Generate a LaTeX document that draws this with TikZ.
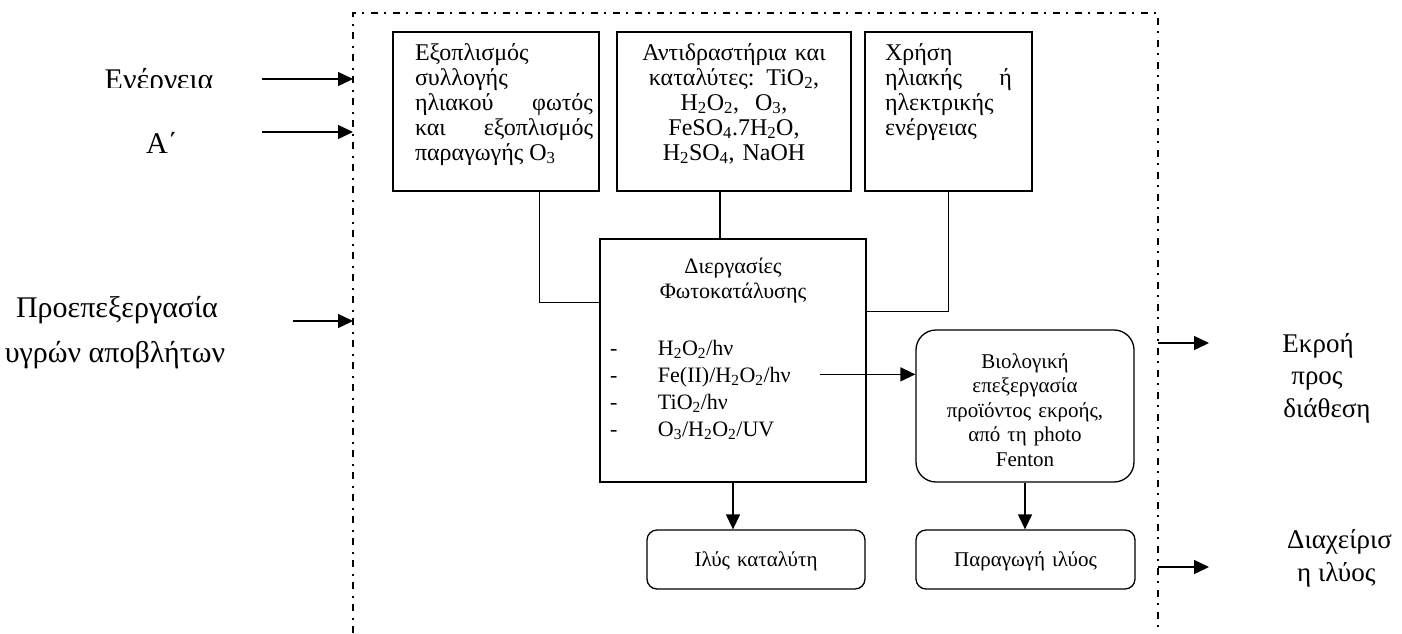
\documentclass[tikz,border=0pt]{standalone}
\usepackage{fontspec}
\setmainfont{Liberation Serif}
\usetikzlibrary{arrows.meta,calc}
\newcommand\sbs[1]{\textsubscript{#1}}

\begin{document}
\begin{tikzpicture}[x=1pt,y=-1pt,
  topfont/.style={font=\fontsize{24}{25}\selectfont},
  sqbox/.style={draw, line width=1.3pt, inner sep=0pt, font=\fontsize{22}{25}\selectfont},
  rbox/.style={sqbox, rounded corners=#1},
  link/.style={line width=1.3pt},
  arr/.style={line width=1.3pt, -{Triangle[length=15pt,width=14pt]}},
  frame/.style={line width=1.4pt, dash pattern=on 7pt off 6pt on 2pt off 7pt},
  lbl/.style={font=\fontsize{30}{40}\selectfont, inner sep=0pt, anchor=base},
  rlbl/.style={font=\fontsize{27}{33}\selectfont, inner sep=0pt, anchor=base}]
\useasboundingbox (0,0) rectangle (1402,633);

% system boundary (open at the bottom)
\coordinate (fbl) at (353,633);
\coordinate (ftl) at (353,13);
\coordinate (ftr) at (1158,13);
\coordinate (fbr) at (1158,633);
\draw[frame] (fbl) -- (ftl) -- (ftr) -- (fbr);

% resource boxes
\node[sqbox, topfont, minimum width=206pt, text height=28pt, text depth=131pt] (equip) at (496,111.5)
  {\hspace*{16pt}\parbox[t]{178pt}{Εξοπλισμός\\ συλλογής\\ ηλιακού\hfill φωτός\\ και\hfill εξοπλισμός\\ παραγωγής O\sbs3}};
\node[sqbox, topfont, align=center, text width=234pt, text height=28pt, text depth=131pt] (react) at (734,111.5)
  {Αντιδραστήρια και\\ καταλύτες: TiO\sbs2,\\ H\sbs2O\sbs2,\ \ O\sbs3,\\ FeSO\sbs4.7H\sbs2O,\\ H\sbs2SO\sbs4, NaOH};
\node[sqbox, topfont, minimum width=167pt, text height=28pt, text depth=131pt] (energy) at (948.5,111.5)
  {\parbox[t]{127pt}{Χρήση\\ ηλιακής\hfill ή\\ ηλεκτρικής\\ ενέργειας}};

% photocatalysis process
\node[sqbox, align=justify, text width=266pt, text height=34pt, text depth=209pt] (proc) at (733,360.5)
  {{\centering Διεργασίες\\ Φωτοκατάλυσης\par}\vspace{30pt}%
   \fontsize{22}{27}\selectfont\leftskip=10pt
   \makebox[48pt][l]{-}H\sbs2O\sbs2/hν\\
   \makebox[48pt][l]{-}Fe(II)/H\sbs2O\sbs2/hν\\
   \makebox[48pt][l]{-}TiO\sbs2/hν\\
   \makebox[48pt][l]{-}O\sbs3/H\sbs2O\sbs2/UV\par};

% downstream treatment and sludge
\node[rbox=20pt, align=center, text width=218pt, text height=38pt, text depth=114pt,
      font=\fontsize{21}{24.5}\selectfont] (bio) at (1025,406)
  {Βιολογική\\ επεξεργασία\\ προϊόντος εκροής,\\ από τη photo\\ Fenton};
\node[rbox=10pt, align=center, text width=218pt, text height=36pt, text depth=23pt,
      font=\fontsize{21}{24.5}\selectfont] (cat) at (756,559.5) {Ιλύς καταλύτη};
\node[rbox=10pt, align=center, text width=219pt, text height=36pt, text depth=23pt,
      font=\fontsize{21}{24.5}\selectfont] (sludge) at (1025.5,559.5) {Παραγωγή ιλύος};

% feeds into the process
\coordinate (e1) at ($(equip.south west)+(147,0)$);
\draw[link] (e1) |- ($(proc.north west)+(0,64)$);
\coordinate (r1) at ($(react.south)+(-14,0)$);
\draw[link] (r1) -- (r1 |- proc.north);
\draw[link] (energy.south) |- ($(proc.north east)+(0,73)$);

% process outputs
\coordinate (fs) at ($(proc.north west)+(221,136)$);
\draw[arr] (fs) -- (fs -| bio.west);
\draw[arr] (proc.south) -- (proc.south |- cat.north);
\draw[arr] (bio.south) -- (bio.south |- sludge.north);

% inputs across the boundary
\begin{scope}
  \clip (0,0) rectangle (350,87);
  \node[lbl] (lEnergy) at (159,89) {Ενέργεια};
\end{scope}
\node[lbl] (lA) at (162,153) {Α΄};
\node[lbl] (lPre1) at (117,317) {Προεπεξεργασία};
\node[lbl] (lPre2) at (115,362) {υγρών αποβλήτων};
\coordinate (inA) at (262,79);
\coordinate (inB) at (262,132);
\coordinate (inC) at (293,321);
\draw[arr] (inA) -- (inA -| ftl);
\draw[arr] (inB) -- (inB -| ftl);
\draw[arr] (inC) -- (inC -| ftl);

% outputs across the boundary
\coordinate (outA) at (1209,343);
\coordinate (outB) at (1209,567);
\draw[arr] (outA -| ftr) -- (outA);
\draw[arr] (outB -| ftr) -- (outB);
\node[rlbl] (lOut1) at (1318,352) {Εκροή};
\node[rlbl] (lOut2) at (1317,384) {προς};
\node[rlbl] (lOut3) at (1327,417) {διάθεση};
\node[rlbl, anchor=base west] (lSl1) at (1287,548) {Διαχείρισ};
\node[rlbl, anchor=base west] (lSl2) at (1297,581) {η ιλύος};
\end{tikzpicture}
\end{document}
